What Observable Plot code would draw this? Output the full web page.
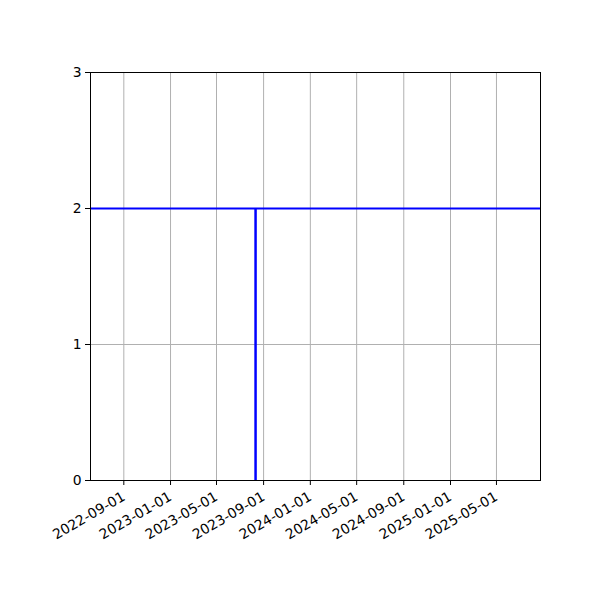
<!DOCTYPE html>
<html>
<head>
<meta charset="utf-8">
<script src="https://cdn.jsdelivr.net/npm/d3@7"></script>
<script src="https://cdn.jsdelivr.net/npm/@observablehq/plot@0.6"></script>
<style>
  html, body { margin: 0; padding: 0; background: #fff; }
  #chart svg { display: block; }
</style>
</head>
<body>
<div id="chart"></div>
<script>
const xDomain = ["2022-06-06", "2025-08-24"];
const xTickLabels = ["2022-09-01", "2023-01-01", "2023-05-01", "2023-09-01", "2024-01-01", "2024-05-01", "2024-09-01", "2025-01-01", "2025-05-01"];
const yTicks = [0, 1, 2, 3];
const levelValues = [2];
const eventDates = ["2023-08-11"];
const eventFrom = [0];
const eventTo = [2];

const parse = d3.utcParse("%Y-%m-%d");
const xTicks = xTickLabels.map(parse);
const events = eventDates.map((d, i) => ({date: parse(d), y1: eventFrom[i], y2: eventTo[i]}));

const chart = Plot.plot({
  width: 600,
  height: 600,
  marginLeft: 90,
  marginRight: 60,
  marginTop: 72,
  marginBottom: 120,
  style: {fontFamily: "DejaVu Sans", fontSize: "13.9px", color: "black", background: "white"},
  x: {type: "utc", domain: xDomain.map(parse)},
  y: {domain: [0, 3]},
  marks: [
    Plot.gridX(xTicks, {stroke: "#b0b0b0", strokeOpacity: 1, strokeWidth: 1}),
    Plot.gridY([1, 2], {stroke: "#b0b0b0", strokeOpacity: 1, strokeWidth: 1}),
    Plot.ruleY(levelValues, {stroke: "blue", strokeWidth: 2}),
    Plot.ruleX(events, {x: "date", y1: "y1", y2: "y2", stroke: "blue", strokeWidth: 2.5}),
    Plot.frame({stroke: "black", strokeWidth: 1}),
    Plot.axisX(xTicks, {tickFormat: d3.utcFormat("%Y-%m-%d"), tickRotate: -30, tickSize: 5, tickPadding: 10, label: null, fontSize: 13.9}),
    Plot.axisY(yTicks, {tickSize: 5, tickPadding: 4, label: null, fontSize: 13.9, tickFormat: d => String(d)})
  ]
});
document.getElementById("chart").appendChild(chart);
</script>
</body>
</html>
